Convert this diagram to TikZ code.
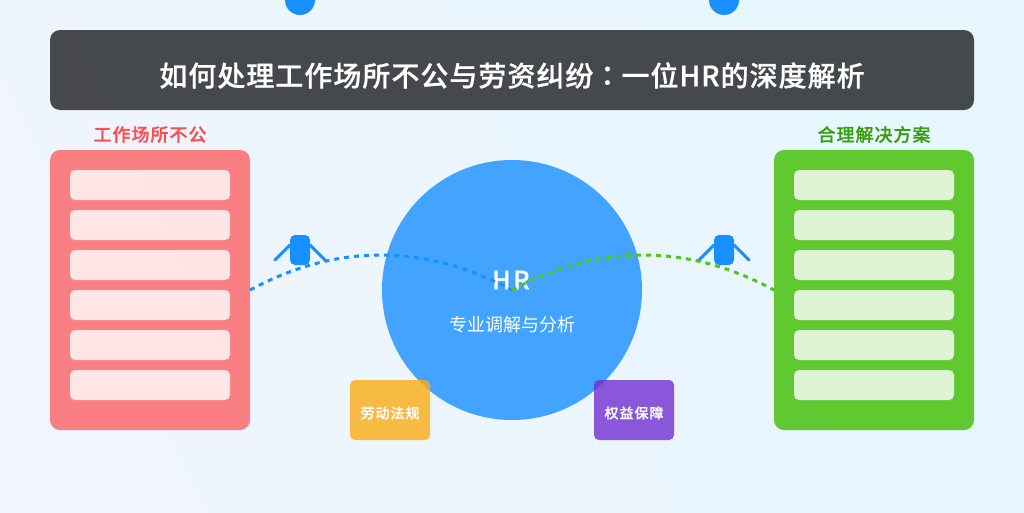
\documentclass[tikz,border=0pt]{standalone}
\usepackage{fontspec}
\setmainfont{Noto Sans CJK SC}
\newfontfamily\medfont[FakeBold=0.7]{Noto Sans CJK SC Medium}
\newfontfamily\colonfont[FakeBold=0.7]{Noto Sans CJK TC Medium}
\definecolor{bgA}{HTML}{F0F5FF}
\definecolor{bgB}{HTML}{E6F7FF}
\definecolor{hrblue}{HTML}{1890FF}
\definecolor{badred}{HTML}{FF4D4F}
\definecolor{goodgreen}{HTML}{52C41A}
\definecolor{goodtext}{HTML}{389E0D}
\definecolor{lawgold}{HTML}{FAAD14}
\definecolor{rightpurple}{HTML}{722ED1}
\tikzset{
	panel/.style={rectangle,inner sep=0,outer sep=0,minimum width=200pt,minimum height=280pt,rounded corners=10pt},
	rowbar/.style={rectangle,inner sep=0,outer sep=0,minimum width=160pt,minimum height=30pt,rounded corners=5pt,fill=white,fill opacity=0.8},
	tagbox/.style={rectangle,inner sep=0,outer sep=0,minimum width=80pt,minimum height=60pt,rounded corners=5pt,fill opacity=0.8},
	tagtext/.style={inner sep=0,text=white,font=\fontsize{14pt}{14pt}\medfont\addfontfeature{LetterSpace=7.1}},
	sidelabel/.style={inner sep=0,font=\fontsize{18pt}{18pt}\medfont\addfontfeature{LetterSpace=5.5}},
	person/.style={rectangle,inner sep=0,outer sep=0,minimum width=20pt,minimum height=30pt,rounded corners=5pt,fill=hrblue},
	headdot/.style={circle,inner sep=0,outer sep=0,minimum size=30pt,fill=hrblue},
	arm/.style={hrblue,line width=3pt,line cap=round},
	link/.style={line width=3pt,dash pattern=on 5pt off 5pt},
}
\begin{document}
\begin{tikzpicture}[x=1pt,y=-1pt]
	\useasboundingbox (0,0) rectangle (1024,512);
	\shade[left color=bgA,right color=bgB,shading angle=115] (0,0) rectangle (1024,512);

	% title
	\node[rectangle,inner sep=0,minimum width=924pt,minimum height=80pt,rounded corners=10pt,fill=black,fill opacity=0.7] (titlebar) at (512,70) {};
	\node[text=white,font=\fontsize{28pt}{28pt}\medfont\addfontfeature{LetterSpace=3.6},inner sep=0] (titletext) at (512,75.5) {如何处理工作场所不公与劳资纠纷{\colonfont\addfontfeature{LetterSpace=3.6}：}一位HR的深度解析};

	% left and right panels
	\node[panel,fill=badred,fill opacity=0.7] (badpanel) at (150,290) {};
	\node[panel,fill=goodgreen,fill opacity=0.9] (goodpanel) at (874,290) {};
	\node[sidelabel,text=badred] (badlabel) at (150,134.5) {工作场所不公};
	\node[sidelabel,text=goodtext] (goodlabel) at (874,134.5) {合理解决方案};
	\foreach \y in {185,225,265,305,345,385} {
		\node[rowbar] (badrow\y) at (150,\y) {};
		\node[rowbar] (goodrow\y) at (874,\y) {};
	}

	% centre
	\node[circle,inner sep=0,outer sep=0,minimum size=260pt,fill=hrblue,fill opacity=0.8] (hrcircle) at (512,290) {};
	\node[tagbox,fill=lawgold] (lawbox) at (390,410) {};
	\node[tagbox,fill=rightpurple] (rightsbox) at (634,410) {};
	\node[tagtext] (lawtext) at (390,413) {劳动法规};
	\node[tagtext] (rightstext) at (634,413) {权益保障};

	% people
	\foreach \n/\x in {pleft/300,pright/724} {
		\node[headdot] (\n head) at (\x,0) {};
		\node[person] (\n) at (\x,250) {};
		\draw[arm] ([yshift=5pt]\n.west) -- ++(-15,15);
		\draw[arm] ([yshift=5pt]\n.east) -- ++(15,15);
	}

	\node[text=white,font=\fontsize{25pt}{25pt}\medfont\addfontfeature{LetterSpace=10},inner sep=0] (hrtext) at (511,280) {HR};
	\node[text=white,font=\fontsize{18pt}{18pt}\selectfont,inner sep=0] (hrsub) at (512,324.5) {专业调解与分析};

	% curves
	\draw[link,hrblue] (badpanel.east) .. controls (336.67,243.33) and (424,243.33) .. (hrcircle.center);
	\draw[link,goodgreen] (hrcircle.center) .. controls (600,243.33) and (687.33,243.33) .. (goodpanel.west);
\end{tikzpicture}
\end{document}
